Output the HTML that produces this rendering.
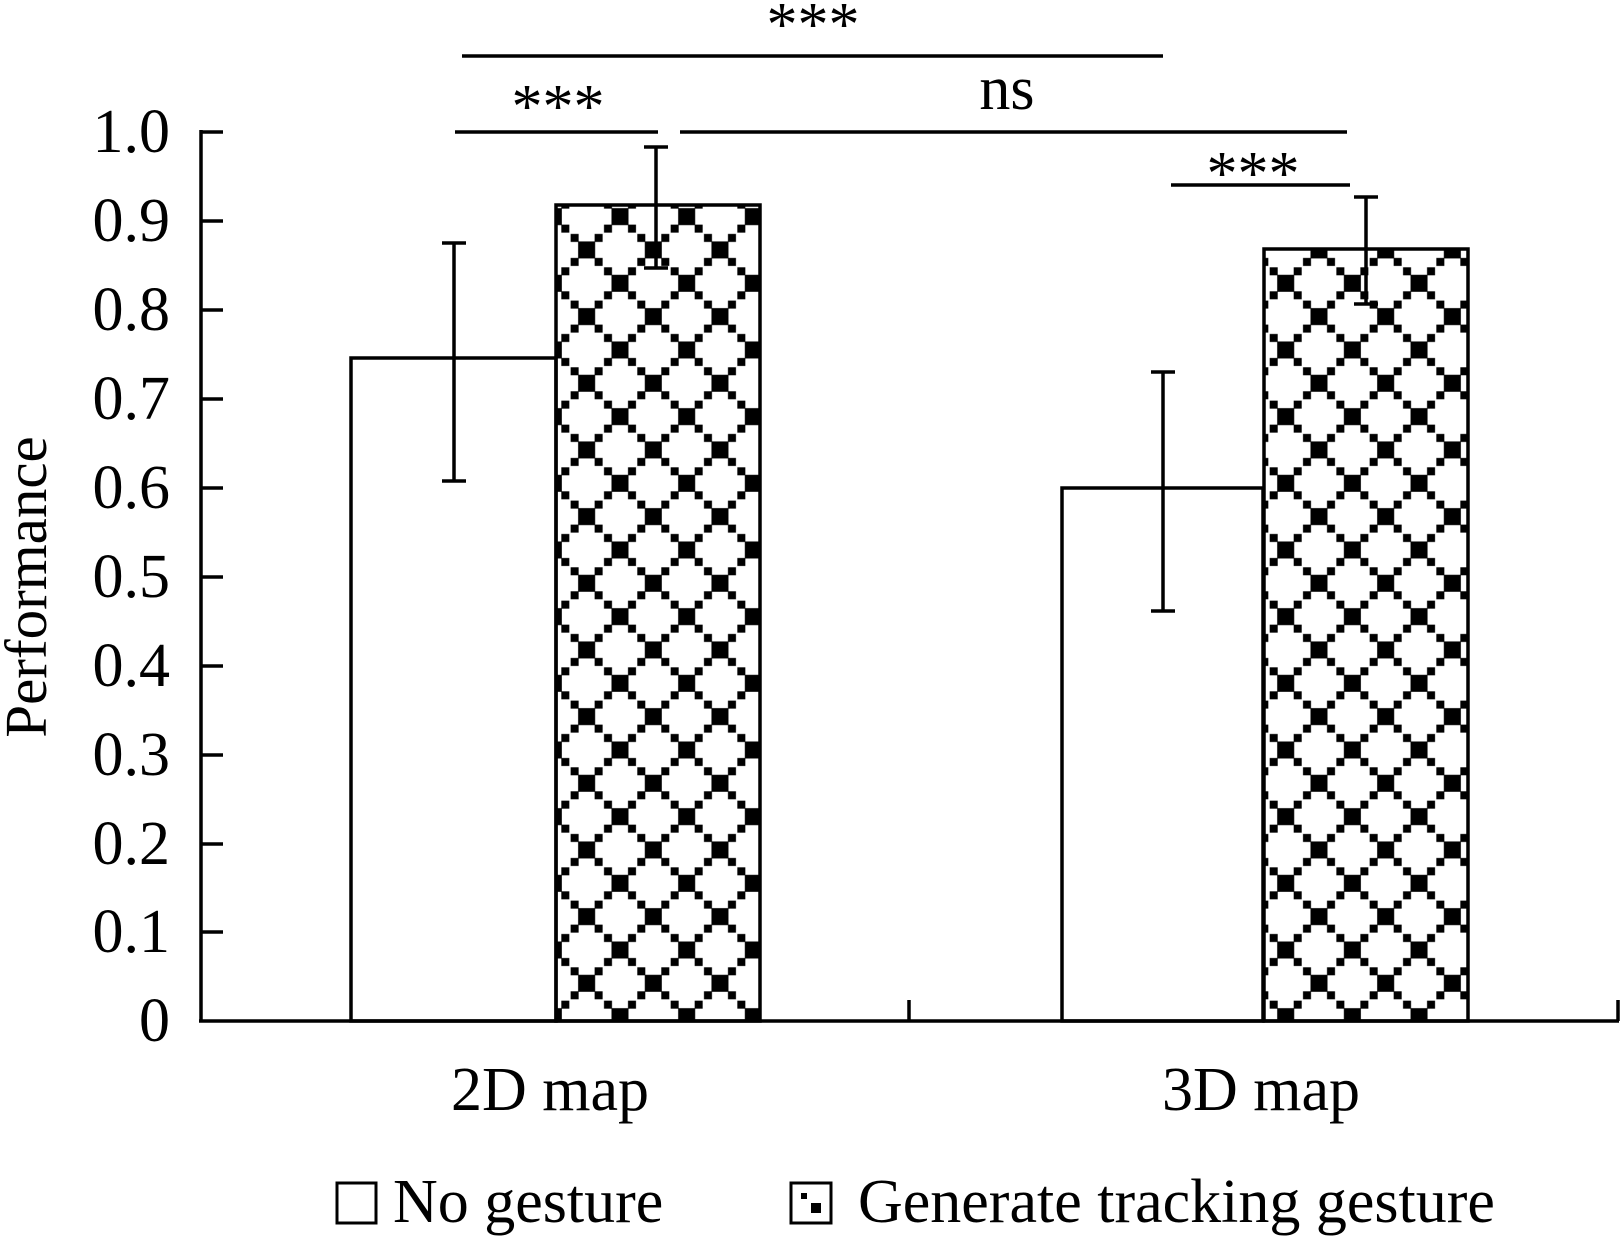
<!DOCTYPE html>
<html><head><meta charset="utf-8"><style>html,body{margin:0;padding:0;background:#fff}svg{display:block}</style></head>
<body>
<svg width="1621" height="1237" viewBox="0 0 1621 1237" xmlns="http://www.w3.org/2000/svg" font-family="'Liberation Serif', serif" fill="#000">
<defs>
<g id="tile">
<rect x="8.2" y="8.2" width="17" height="17"/>
<rect x="41.5" y="41.5" width="17" height="17"/>
<rect x="0.7" y="0.7" width="8" height="8"/><rect x="24.7" y="0.7" width="8" height="8"/>
<rect x="0.7" y="24.7" width="8" height="8"/><rect x="24.7" y="24.7" width="8" height="8"/>
<rect x="34" y="34" width="8" height="8"/><rect x="58" y="34" width="8" height="8"/>
<rect x="34" y="58" width="8" height="8"/><rect x="58" y="58" width="8" height="8"/>
</g>
<pattern id="p2" patternUnits="userSpaceOnUse" x="603.3" y="266.6" width="66.67" height="66.67"><use href="#tile"/></pattern>
<pattern id="p4" patternUnits="userSpaceOnUse" x="1269" y="266.6" width="66.67" height="66.67"><use href="#tile"/></pattern>
</defs>
<g stroke="#000" stroke-width="3.5" fill="none">
<rect x="351" y="358" width="205" height="663" fill="#fff"/>
<rect x="556" y="205" width="204" height="816" fill="url(#p2)"/>
<rect x="1062" y="488" width="201" height="533" fill="#fff"/>
<rect x="1264" y="249" width="204" height="772" fill="url(#p4)"/>
<line x1="201" y1="130" x2="201" y2="1021"/>
<line x1="199" y1="1021" x2="1619" y2="1021"/>
<line x1="909" y1="1000" x2="909" y2="1021"/>
<line x1="1618" y1="1000" x2="1618" y2="1021"/>
<line x1="201" y1="132" x2="223" y2="132"/>
<line x1="201" y1="221" x2="223" y2="221"/>
<line x1="201" y1="310" x2="223" y2="310"/>
<line x1="201" y1="399" x2="223" y2="399"/>
<line x1="201" y1="488" x2="223" y2="488"/>
<line x1="201" y1="577" x2="223" y2="577"/>
<line x1="201" y1="666" x2="223" y2="666"/>
<line x1="201" y1="755" x2="223" y2="755"/>
<line x1="201" y1="844" x2="223" y2="844"/>
<line x1="201" y1="932" x2="223" y2="932"/>
<path d="M454 243V481M442 243H466M442 481H466"/>
<path d="M656 147V268M644 147H668M644 268H668"/>
<path d="M1163 372V611M1151 372H1175M1151 611H1175"/>
<path d="M1366 197V304M1354 197H1378M1354 304H1378"/>
<line x1="462" y1="56" x2="1163" y2="56"/>
<line x1="455" y1="132" x2="658" y2="132"/>
<line x1="680" y1="132" x2="1347" y2="132"/>
<line x1="1171" y1="185" x2="1350" y2="185"/>
<rect x="337" y="1183" width="39" height="40" stroke-width="3" fill="#fff"/>
<rect x="791" y="1183" width="40" height="40" stroke-width="3" fill="#fff"/>
</g>
<rect x="811" y="1203" width="10" height="10"/><rect x="801" y="1193" width="6" height="6"/>
<g font-size="62" text-anchor="end">
<text x="170" y="152">1.0</text>
<text x="170" y="241">0.9</text>
<text x="170" y="330">0.8</text>
<text x="170" y="419">0.7</text>
<text x="170" y="508">0.6</text>
<text x="170" y="597">0.5</text>
<text x="170" y="686">0.4</text>
<text x="170" y="775">0.3</text>
<text x="170" y="864">0.2</text>
<text x="170" y="952">0.1</text>
<text x="170" y="1041">0</text>
</g>
<text transform="translate(46,587) rotate(-90)" font-size="59" text-anchor="middle">Performance</text>
<g font-size="62" text-anchor="middle">
<text x="550" y="1110">2D map</text>
<text x="1261" y="1110">3D map</text>
<text x="813" y="45">***</text>
<text x="558" y="127">***</text>
<text x="1007" y="109">ns</text>
<text x="1253" y="194">***</text>
</g>
<g font-size="62">
<text x="393" y="1222">No gesture</text>
<text x="858" y="1222">Generate tracking gesture</text>
</g>
</svg>
</body></html>
